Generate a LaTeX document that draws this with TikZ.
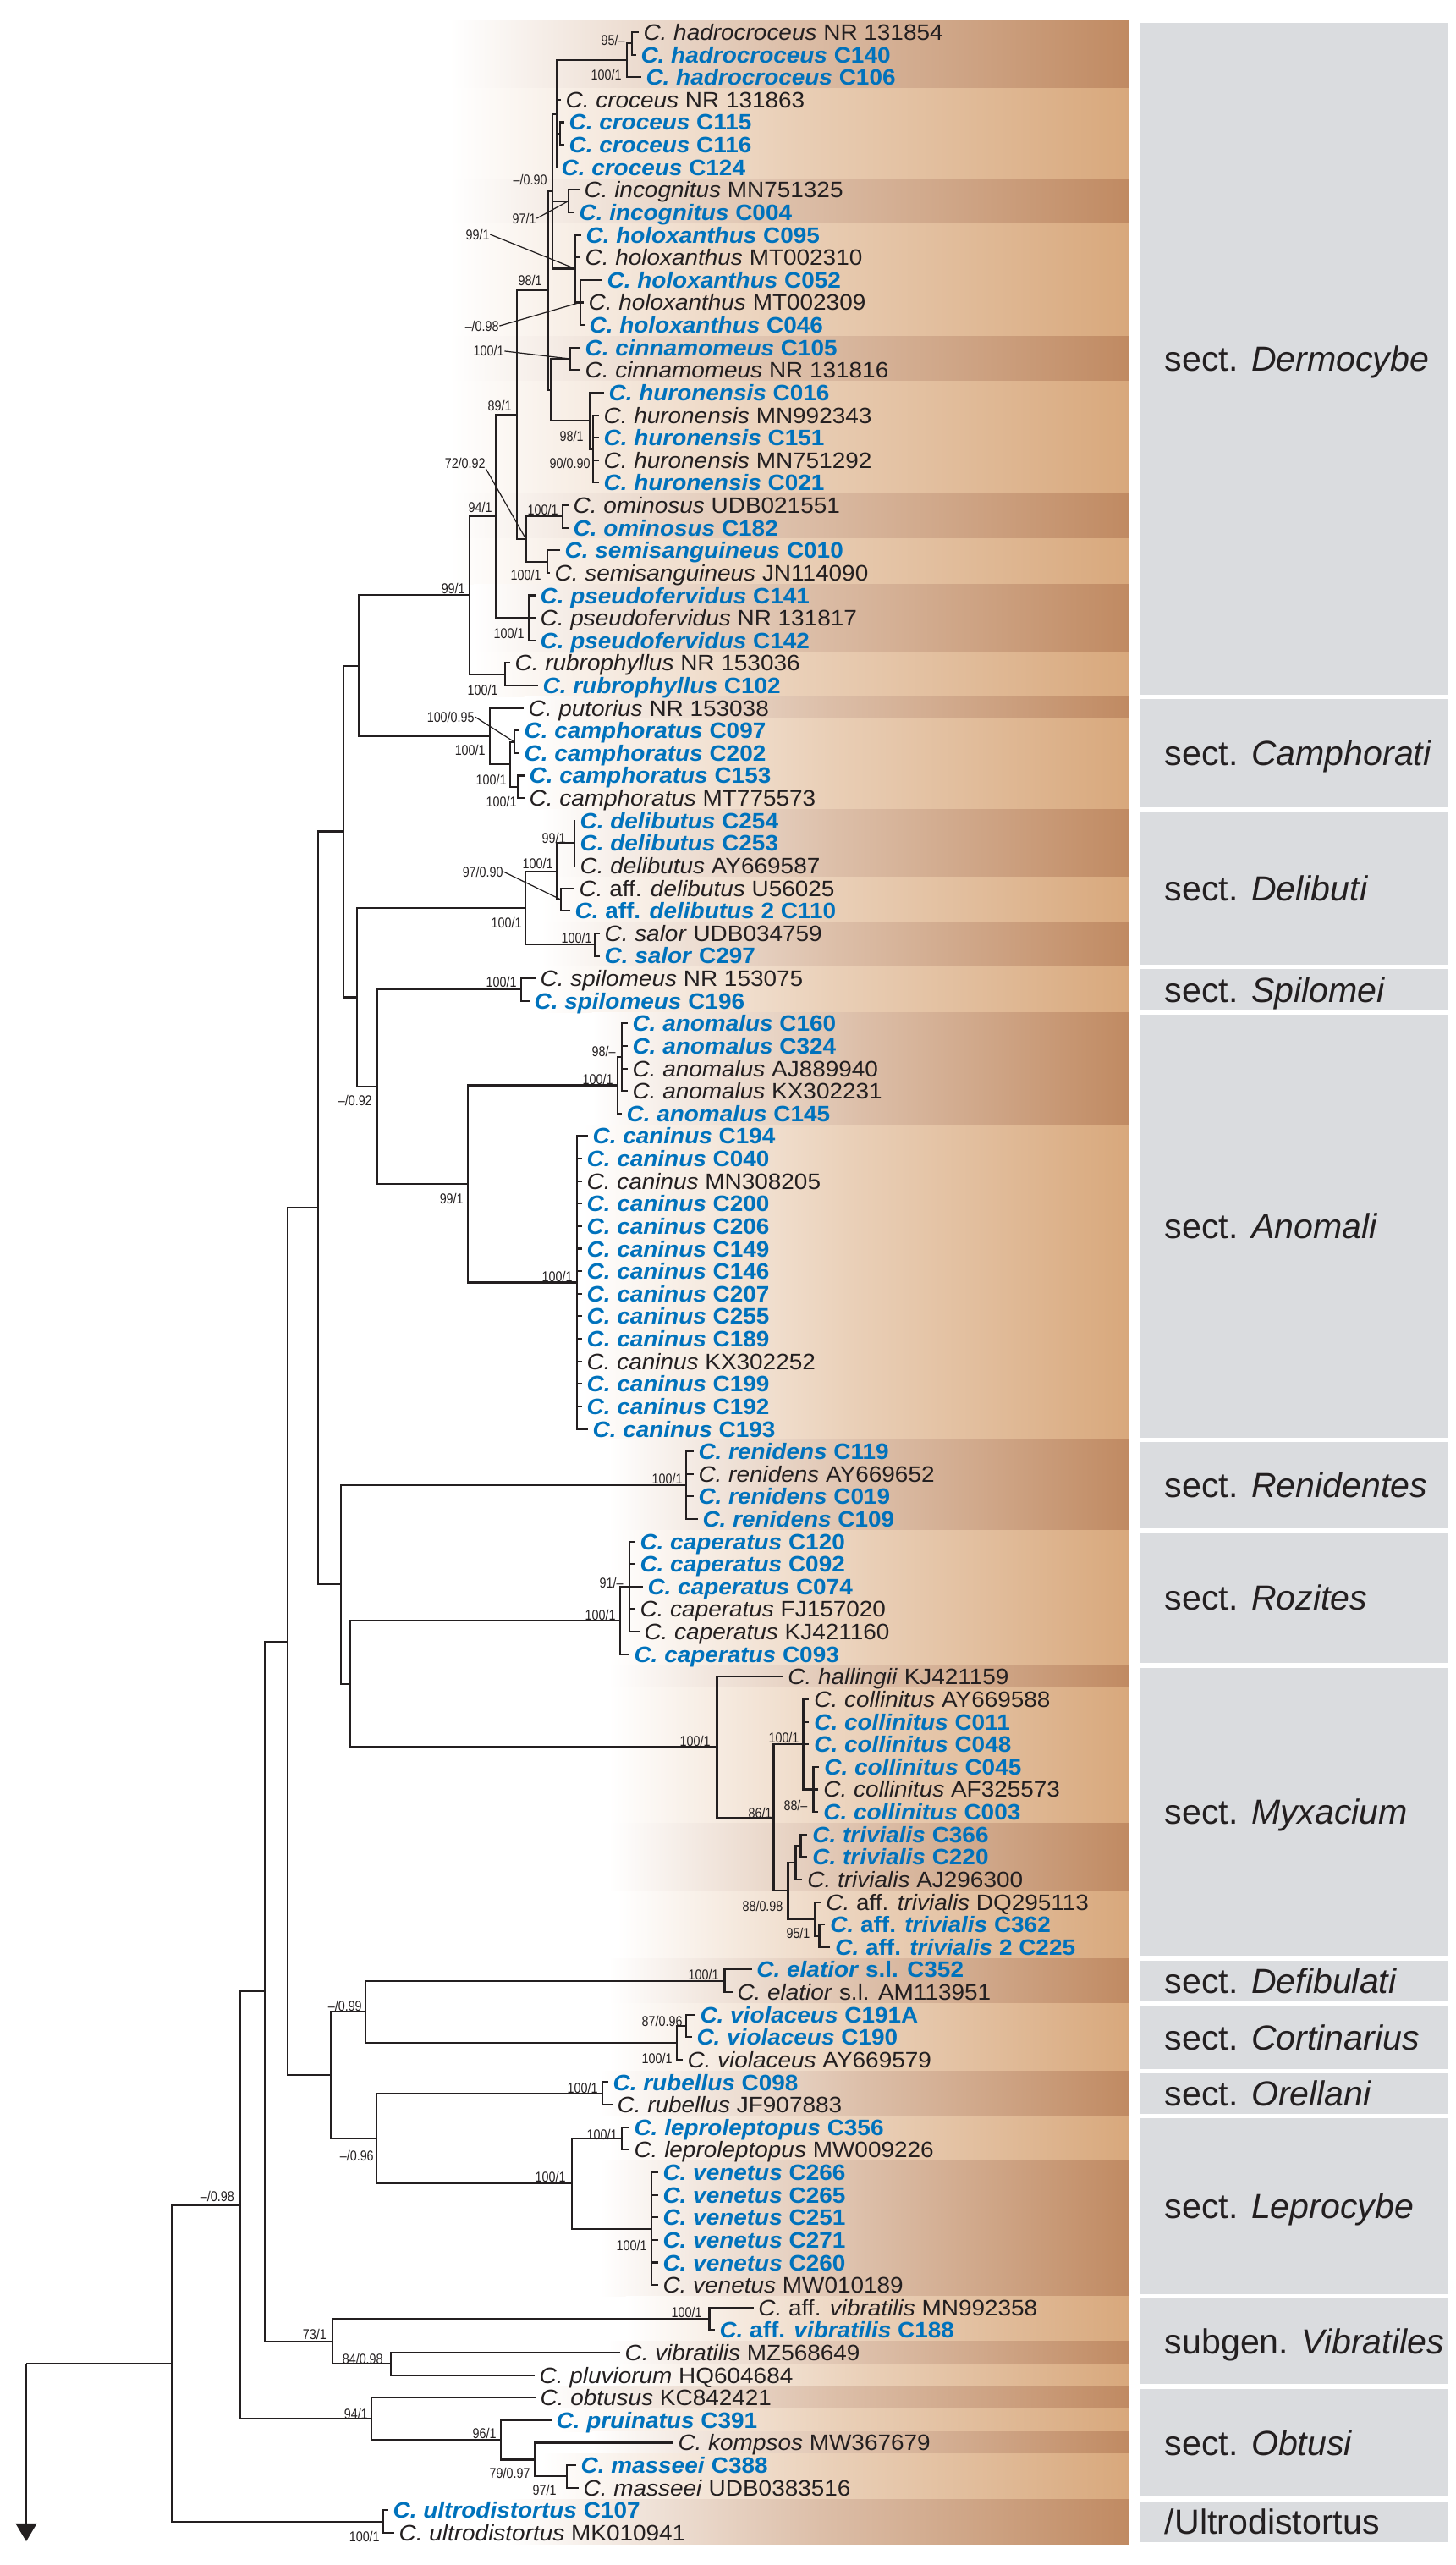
\documentclass[tikz,border=0pt]{standalone}
\usepackage{fontspec}
\setmainfont{Liberation Sans}
\newfontfamily\taxfont{Liberation Sans}[FakeStretch=1.06]
\newfontfamily\bootfont{Liberation Sans}[FakeStretch=0.85]
\usetikzlibrary{arrows.meta}
\definecolor{ink}{HTML}{231F20}
\definecolor{ourblue}{HTML}{0072BC}
\definecolor{dkband}{HTML}{C08A62}
\definecolor{ltband}{HTML}{D8A87C}
\definecolor{secgray}{HTML}{DADCDF}
\newcommand{\Cn}[1]{\textit{C. #1}}
\tikzstyle{branch} = [line width = 0.6pt, draw = ink]
\tikzstyle{pointer} = [line width = 0.35pt, draw = ink]
\tikzstyle{taxon} = [anchor = west, inner xsep = 1.5pt, inner ysep = 0pt,
	text height = 5.4pt, text depth = 0pt, font = \taxfont\fontsize{7.5}{8}\selectfont, text = ink]
\tikzstyle{ours} = [taxon, font = \taxfont\fontsize{7.5}{8}\selectfont\bfseries, text = ourblue]
\tikzstyle{support} = [inner sep = 0pt, font = \bootfont\fontsize{4.8}{5}\selectfont, text = ink]
\tikzstyle{darkband} = [left color = white, right color = dkband, middle color = dkband!55!white]
\tikzstyle{lightband} = [left color = white, right color = ltband, middle color = ltband!55!white]
\tikzstyle{section} = [fill = secgray]
\tikzstyle{seclabel} = [anchor = west, inner sep = 0pt, text height = 8.4pt, text depth = 0pt,
	font = \fontsize{11.7}{12}\selectfont, text = ink]

\begin{document}
\begin{tikzpicture}[x = 0.01cm, y = -0.2662cm]
\useasboundingbox (0,-0.4275) rectangle (1721,113.43);

\path [darkband] (532,0.5) rectangle (1335,3.5);
\path [lightband] (532,3.5) rectangle (1335,7.5);
\path [darkband] (532,7.5) rectangle (1335,9.5);
\path [lightband] (532,9.5) rectangle (1335,14.5);
\path [darkband] (532,14.5) rectangle (1335,16.5);
\path [lightband] (532,16.5) rectangle (1335,21.5);
\path [darkband] (532,21.5) rectangle (1335,23.5);
\path [lightband] (532,23.5) rectangle (1335,25.5);
\path [darkband] (560,25.5) rectangle (1335,28.5);
\path [lightband] (560,28.5) rectangle (1335,30.5);
\path [darkband] (620,30.5) rectangle (1335,31.5);
\path [lightband] (620,31.5) rectangle (1335,35.5);
\path [darkband] (640,35.5) rectangle (1335,38.5);
\path [lightband] (640,38.5) rectangle (1335,40.5);
\path [darkband] (640,40.5) rectangle (1335,42.5);
\path [lightband] (640,42.5) rectangle (1335,44.5);
\path [darkband] (700,44.5) rectangle (1335,49.5);
\path [lightband] (690,49.5) rectangle (1335,63.5);
\path [darkband] (720,63.5) rectangle (1335,67.5);
\path [lightband] (720,67.5) rectangle (1335,73.5);
\path [darkband] (720,73.5) rectangle (1335,74.5);
\path [lightband] (720,74.5) rectangle (1335,80.5);
\path [darkband] (720,80.5) rectangle (1335,83.5);
\path [lightband] (730,83.5) rectangle (1335,86.5);
\path [darkband] (720,86.5) rectangle (1335,88.5);
\path [lightband] (720,88.5) rectangle (1335,91.5);
\path [darkband] (710,91.5) rectangle (1335,93.5);
\path [lightband] (720,93.5) rectangle (1335,95.5);
\path [darkband] (710,95.5) rectangle (1335,101.5);
\path [lightband] (740,101.5) rectangle (1335,103.5);
\path [darkband] (720,103.5) rectangle (1335,104.5);
\path [lightband] (720,104.5) rectangle (1335,105.5);
\path [darkband] (640,105.5) rectangle (1335,106.5);
\path [lightband] (660,106.5) rectangle (1335,107.5);
\path [darkband] (700,107.5) rectangle (1335,108.5);
\path [lightband] (640,108.5) rectangle (1335,110.5);
\path [darkband] (600,110.5) rectangle (1335,112.5);

\fill [section] (1348,0.6) rectangle (1712,30.4);
\node (derm) [seclabel] at (1377,15.5) {sect. \textit{Dermocybe}};
\fill [section] (1348,30.6) rectangle (1712,35.4);
\node (camp) [seclabel] at (1377,33) {sect. \textit{Camphorati}};
\fill [section] (1348,35.6) rectangle (1712,42.4);
\node (deli) [seclabel] at (1377,39) {sect. \textit{Delibuti}};
\fill [section] (1348,42.6) rectangle (1712,44.4);
\node (spil) [seclabel] at (1377,43.5) {sect. \textit{Spilomei}};
\fill [section] (1348,44.6) rectangle (1712,63.4);
\node (anom) [seclabel] at (1377,54) {sect. \textit{Anomali}};
\fill [section] (1348,63.6) rectangle (1712,67.4);
\node (reni) [seclabel] at (1377,65.5) {sect. \textit{Renidentes}};
\fill [section] (1348,67.6) rectangle (1712,73.4);
\node (rozi) [seclabel] at (1377,70.5) {sect. \textit{Rozites}};
\fill [section] (1348,73.6) rectangle (1712,86.4);
\node (myxa) [seclabel] at (1377,80) {sect. \textit{Myxacium}};
\fill [section] (1348,86.6) rectangle (1712,88.4);
\node (defi) [seclabel] at (1377,87.5) {sect. \textit{Defibulati}};
\fill [section] (1348,88.6) rectangle (1712,91.4);
\node (cort) [seclabel] at (1377,90) {sect. \textit{Cortinarius}};
\fill [section] (1348,91.6) rectangle (1712,93.4);
\node (orel) [seclabel] at (1377,92.5) {sect. \textit{Orellani}};
\fill [section] (1348,93.6) rectangle (1712,101.4);
\node (lepr) [seclabel] at (1377,97.5) {sect. \textit{Leprocybe}};
\fill [section] (1348,101.6) rectangle (1712,105.4);
\node (vibr) [seclabel] at (1377,103.5) {subgen. \textit{Vibratiles}};
\fill [section] (1348,105.6) rectangle (1712,110.4);
\node (obtu) [seclabel] at (1377,108) {sect. \textit{Obtusi}};
\fill [section] (1348,110.6) rectangle (1712,112.4);
\node (ultr) [seclabel] at (1377,111.5) {/Ultrodistortus};

\node (t1) [taxon] at (755,1) {\Cn{hadrocroceus} NR 131854};
\node (t2) [ours] at (752,2) {\Cn{hadrocroceus} C140};
\node (t3) [ours] at (758,3) {\Cn{hadrocroceus} C106};
\node (t4) [taxon] at (663,4) {\Cn{croceus} NR 131863};
\node (t5) [ours] at (667,5) {\Cn{croceus} C115};
\node (t6) [ours] at (667,6) {\Cn{croceus} C116};
\node (t7) [ours] at (658,7) {\Cn{croceus} C124};
\node (t8) [taxon] at (685,8) {\Cn{incognitus} MN751325};
\node (t9) [ours] at (679,9) {\Cn{incognitus} C004};
\node (t10) [ours] at (687,10) {\Cn{holoxanthus} C095};
\node (t11) [taxon] at (686,11) {\Cn{holoxanthus} MT002310};
\node (t12) [ours] at (712,12) {\Cn{holoxanthus} C052};
\node (t13) [taxon] at (690,13) {\Cn{holoxanthus} MT002309};
\node (t14) [ours] at (691,14) {\Cn{holoxanthus} C046};
\node (t15) [ours] at (686,15) {\Cn{cinnamomeus} C105};
\node (t16) [taxon] at (686,16) {\Cn{cinnamomeus} NR 131816};
\node (t17) [ours] at (714,17) {\Cn{huronensis} C016};
\node (t18) [taxon] at (708,18) {\Cn{huronensis} MN992343};
\node (t19) [ours] at (708,19) {\Cn{huronensis} C151};
\node (t20) [taxon] at (708,20) {\Cn{huronensis} MN751292};
\node (t21) [ours] at (708,21) {\Cn{huronensis} C021};
\node (t22) [taxon] at (672,22) {\Cn{ominosus} UDB021551};
\node (t23) [ours] at (672,23) {\Cn{ominosus} C182};
\node (t24) [ours] at (662,24) {\Cn{semisanguineus} C010};
\node (t25) [taxon] at (650,25) {\Cn{semisanguineus} JN114090};
\node (t26) [ours] at (633,26) {\Cn{pseudofervidus} C141};
\node (t27) [taxon] at (633,27) {\Cn{pseudofervidus} NR 131817};
\node (t28) [ours] at (633,28) {\Cn{pseudofervidus} C142};
\node (t29) [taxon] at (603,29) {\Cn{rubrophyllus} NR 153036};
\node (t30) [ours] at (636,30) {\Cn{rubrophyllus} C102};
\node (t31) [taxon] at (619,31) {\Cn{putorius} NR 153038};
\node (t32) [ours] at (614,32) {\Cn{camphoratus} C097};
\node (t33) [ours] at (614,33) {\Cn{camphoratus} C202};
\node (t34) [ours] at (620,34) {\Cn{camphoratus} C153};
\node (t35) [taxon] at (620,35) {\Cn{camphoratus} MT775573};
\node (t36) [ours] at (680,36) {\Cn{delibutus} C254};
\node (t37) [ours] at (680,37) {\Cn{delibutus} C253};
\node (t38) [taxon] at (680,38) {\Cn{delibutus} AY669587};
\node (t39) [taxon] at (679,39) {\textit{C.} aff. \textit{delibutus} U56025};
\node (t40) [ours] at (674,40) {\textit{C.} aff. \textit{delibutus} 2 C110};
\node (t41) [taxon] at (709,41) {\Cn{salor} UDB034759};
\node (t42) [ours] at (709,42) {\Cn{salor} C297};
\node (t43) [taxon] at (633,43) {\Cn{spilomeus} NR 153075};
\node (t44) [ours] at (626,44) {\Cn{spilomeus} C196};
\node (t45) [ours] at (742,45) {\Cn{anomalus} C160};
\node (t46) [ours] at (742,46) {\Cn{anomalus} C324};
\node (t47) [taxon] at (742,47) {\Cn{anomalus} AJ889940};
\node (t48) [taxon] at (742,48) {\Cn{anomalus} KX302231};
\node (t49) [ours] at (735,49) {\Cn{anomalus} C145};
\node (t50) [ours] at (695,50) {\Cn{caninus} C194};
\node (t51) [ours] at (688,51) {\Cn{caninus} C040};
\node (t52) [taxon] at (688,52) {\Cn{caninus} MN308205};
\node (t53) [ours] at (688,53) {\Cn{caninus} C200};
\node (t54) [ours] at (688,54) {\Cn{caninus} C206};
\node (t55) [ours] at (688,55) {\Cn{caninus} C149};
\node (t56) [ours] at (688,56) {\Cn{caninus} C146};
\node (t57) [ours] at (688,57) {\Cn{caninus} C207};
\node (t58) [ours] at (688,58) {\Cn{caninus} C255};
\node (t59) [ours] at (688,59) {\Cn{caninus} C189};
\node (t60) [taxon] at (688,60) {\Cn{caninus} KX302252};
\node (t61) [ours] at (688,61) {\Cn{caninus} C199};
\node (t62) [ours] at (688,62) {\Cn{caninus} C192};
\node (t63) [ours] at (695,63) {\Cn{caninus} C193};
\node (t64) [ours] at (820,64) {\Cn{renidens} C119};
\node (t65) [taxon] at (820,65) {\Cn{renidens} AY669652};
\node (t66) [ours] at (820,66) {\Cn{renidens} C019};
\node (t67) [ours] at (825,67) {\Cn{renidens} C109};
\node (t68) [ours] at (751,68) {\Cn{caperatus} C120};
\node (t69) [ours] at (751,69) {\Cn{caperatus} C092};
\node (t70) [ours] at (760,70) {\Cn{caperatus} C074};
\node (t71) [taxon] at (751,71) {\Cn{caperatus} FJ157020};
\node (t72) [taxon] at (756,72) {\Cn{caperatus} KJ421160};
\node (t73) [ours] at (744,73) {\Cn{caperatus} C093};
\node (t74) [taxon] at (926,74) {\Cn{hallingii} KJ421159};
\node (t75) [taxon] at (957,75) {\Cn{collinitus} AY669588};
\node (t76) [ours] at (957,76) {\Cn{collinitus} C011};
\node (t77) [ours] at (957,77) {\Cn{collinitus} C048};
\node (t78) [ours] at (969,78) {\Cn{collinitus} C045};
\node (t79) [taxon] at (968,79) {\Cn{collinitus} AF325573};
\node (t80) [ours] at (968,80) {\Cn{collinitus} C003};
\node (t81) [ours] at (955,81) {\Cn{trivialis} C366};
\node (t82) [ours] at (955,82) {\Cn{trivialis} C220};
\node (t83) [taxon] at (949,83) {\Cn{trivialis} AJ296300};
\node (t84) [taxon] at (971,84) {\textit{C.} aff. \textit{trivialis} DQ295113};
\node (t85) [ours] at (976,85) {\textit{C.} aff. \textit{trivialis} C362};
\node (t86) [ours] at (982,86) {\textit{C.} aff. \textit{trivialis} 2 C225};
\node (t87) [ours] at (889,87) {\Cn{elatior} s.l. C352};
\node (t88) [taxon] at (866,88) {\Cn{elatior} s.l. AM113951};
\node (t89) [ours] at (822,89) {\Cn{violaceus} C191A};
\node (t90) [ours] at (818,90) {\Cn{violaceus} C190};
\node (t91) [taxon] at (807,91) {\Cn{violaceus} AY669579};
\node (t92) [ours] at (719,92) {\Cn{rubellus} C098};
\node (t93) [taxon] at (724,93) {\Cn{rubellus} JF907883};
\node (t94) [ours] at (744,94) {\Cn{leproleptopus} C356};
\node (t95) [taxon] at (744,95) {\Cn{leproleptopus} MW009226};
\node (t96) [ours] at (778,96) {\Cn{venetus} C266};
\node (t97) [ours] at (778,97) {\Cn{venetus} C265};
\node (t98) [ours] at (778,98) {\Cn{venetus} C251};
\node (t99) [ours] at (778,99) {\Cn{venetus} C271};
\node (t100) [ours] at (778,100) {\Cn{venetus} C260};
\node (t101) [taxon] at (778,101) {\Cn{venetus} MW010189};
\node (t102) [taxon] at (891,102) {\textit{C.} aff. \textit{vibratilis} MN992358};
\node (t103) [ours] at (845,103) {\textit{C.} aff. \textit{vibratilis} C188};
\node (t104) [taxon] at (733,104) {\Cn{vibratilis} MZ568649};
\node (t105) [taxon] at (632,105) {\Cn{pluviorum} HQ604684};
\node (t106) [taxon] at (633,106) {\Cn{obtusus} KC842421};
\node (t107) [ours] at (652,107) {\Cn{pruinatus} C391};
\node (t108) [taxon] at (796,108) {\Cn{kompsos} MW367679};
\node (t109) [ours] at (681,109) {\Cn{masseei} C388};
\node (t110) [taxon] at (684,110) {\Cn{masseei} UDB0383516};
\node (t111) [ours] at (459,111) {\Cn{ultrodistortus} C107};
\node (t112) [taxon] at (466,112) {\Cn{ultrodistortus} MK010941};

\coordinate (H1) at (747,1.5);
\coordinate (H2) at (741,2.25);
\coordinate (S1) at (662,5.5);
\coordinate (CR) at (658,4.625);
\coordinate (INC) at (672,8.5);
\coordinate (S2) at (686,13);
\coordinate (HOL) at (680,11.5);
\coordinate (Q) at (653,8.0625);
\coordinate (CIN) at (674,15.5);
\coordinate (HUR2) at (701,19.5);
\coordinate (HUR) at (697,18.25);
\coordinate (R) at (651,16.875);
\coordinate (D98) at (648,12.469);
\coordinate (OMI) at (665,22.5);
\coordinate (SEM) at (647,24.5);
\coordinate (N72) at (622,23.5);
\coordinate (N89) at (611,17.984);
\coordinate (PSE) at (625,27);
\coordinate (N94) at (586,22.492);
\coordinate (RUB) at (597,29.5);
\coordinate (N99D) at (555,25.996);
\coordinate (CAM1) at (608,32.5);
\coordinate (CAM2) at (612,34.5);
\coordinate (CAM) at (603,33.5);
\coordinate (CAMPH) at (579,32.25);
\coordinate (N424) at (424,29.123);
\coordinate (DEL) at (679,37);
\coordinate (ADEL) at (663,39.5);
\coordinate (N100a) at (658,38.25);
\coordinate (SAL) at (703,41.5);
\coordinate (DELIB) at (621,39.875);
\coordinate (SPI) at (616,43.5);
\coordinate (ANO1) at (735,46.5);
\coordinate (ANO) at (730,47.75);
\coordinate (CAN) at (682,56.5);
\coordinate (N99A) at (553,52.125);
\coordinate (N092) at (446,47.8125);
\coordinate (N422) at (422,43.84);
\coordinate (N406) at (406,36.48);
\coordinate (REN) at (811,65.5);
\coordinate (CAP1) at (744,70);
\coordinate (CAP) at (733,71.5);
\coordinate (COLL2) at (962,79);
\coordinate (COLL) at (950,77);
\coordinate (TRI1) at (947,81.5);
\coordinate (TRI2) at (941,82.25);
\coordinate (ATRI2) at (969,85.5);
\coordinate (ATRI) at (964,84.75);
\coordinate (TRI3) at (932,83.5);
\coordinate (N86) at (915,80.25);
\coordinate (MYX) at (848,77.125);
\coordinate (N414) at (414,74.31);
\coordinate (N403) at (403,69.9);
\coordinate (N376) at (376,53.19);
\coordinate (ELA) at (857,87.5);
\coordinate (VIO1) at (811,89.5);
\coordinate (VIO) at (800,90.25);
\coordinate (N099) at (432,88.875);
\coordinate (RUBE) at (712,92.5);
\coordinate (LEPL) at (735,94.5);
\coordinate (VEN) at (770,98.5);
\coordinate (LEP) at (676,96.5);
\coordinate (N096) at (445,94.5);
\coordinate (N391) at (391,91.69);
\coordinate (N340) at (340,72.44);
\coordinate (AVIB) at (839,102.5);
\coordinate (N84) at (462,104.5);
\coordinate (N73) at (393,103.5);
\coordinate (N313) at (313,87.97);
\coordinate (MAS) at (670,109.5);
\coordinate (N79) at (632,108.75);
\coordinate (N96) at (592,107.875);
\coordinate (OBT) at (439,106.94);
\coordinate (N098) at (284,97.45);
\coordinate (ULT) at (453,111.5);
\coordinate (ROOT) at (203,104.48);
\coordinate (stem) at (31,104.48);
\coordinate (down) at (31,112.38);

\draw [branch] (H1) |- (t1.west) (H1) |- (t2.west);
\draw [branch] (H2) |- (H1) (H2) |- (t3.west);
\draw [branch] (S1) |- (t5.west) (S1) |- (t6.west);
\draw [branch] (CR) |- (H2) (CR) |- (t4.west) (CR) |- (S1) (CR) |- (t7.west);
\draw [branch] (INC) |- (t8.west) (INC) |- (t9.west);
\draw [branch] (S2) |- (t12.west) (S2) |- (t13.west) (S2) |- (t14.west);
\draw [branch] (HOL) |- (t10.west) (HOL) |- (t11.west) (HOL) |- (S2);
\draw [branch] (Q) |- (CR) (Q) |- (INC) (Q) |- (HOL);
\draw [branch] (CIN) |- (t15.west) (CIN) |- (t16.west);
\draw [branch] (HUR2) |- (t18.west) (HUR2) |- (t19.west) (HUR2) |- (t20.west) (HUR2) |- (t21.west);
\draw [branch] (HUR) |- (t17.west) (HUR) |- (HUR2);
\draw [branch] (R) |- (CIN) (R) |- (HUR);
\draw [branch] (D98) |- (Q) (D98) |- (R);
\draw [branch] (OMI) |- (t22.west) (OMI) |- (t23.west);
\draw [branch] (SEM) |- (t24.west) (SEM) |- (t25.west);
\draw [branch] (N72) |- (OMI) (N72) |- (SEM);
\draw [branch] (N89) |- (D98) (N89) |- (N72);
\draw [branch] (PSE) |- (t26.west) (PSE) |- (t27.west) (PSE) |- (t28.west);
\draw [branch] (N94) |- (N89) (N94) |- (PSE);
\draw [branch] (RUB) |- (t29.west) (RUB) |- (t30.west);
\draw [branch] (N99D) |- (N94) (N99D) |- (RUB);
\draw [branch] (CAM1) |- (t32.west) (CAM1) |- (t33.west);
\draw [branch] (CAM2) |- (t34.west) (CAM2) |- (t35.west);
\draw [branch] (CAM) |- (CAM1) (CAM) |- (CAM2);
\draw [branch] (CAMPH) |- (t31.west) (CAMPH) |- (CAM);
\draw [branch] (N424) |- (N99D) (N424) |- (CAMPH);
\draw [branch] (DEL) |- (t36.west) (DEL) |- (t37.west) (DEL) |- (t38.west);
\draw [branch] (ADEL) |- (t39.west) (ADEL) |- (t40.west);
\draw [branch] (N100a) |- (DEL) (N100a) |- (ADEL);
\draw [branch] (SAL) |- (t41.west) (SAL) |- (t42.west);
\draw [branch] (DELIB) |- (N100a) (DELIB) |- (SAL);
\draw [branch] (SPI) |- (t43.west) (SPI) |- (t44.west);
\draw [branch] (ANO1) |- (t45.west) (ANO1) |- (t46.west) (ANO1) |- (t47.west) (ANO1) |- (t48.west);
\draw [branch] (ANO) |- (ANO1) (ANO) |- (t49.west);
\draw [branch] (CAN) |- (t50.west) (CAN) |- (t51.west) (CAN) |- (t52.west) (CAN) |- (t53.west)
	(CAN) |- (t54.west) (CAN) |- (t55.west) (CAN) |- (t56.west) (CAN) |- (t57.west)
	(CAN) |- (t58.west) (CAN) |- (t59.west) (CAN) |- (t60.west) (CAN) |- (t61.west)
	(CAN) |- (t62.west) (CAN) |- (t63.west);
\draw [branch] (N99A) |- (ANO) (N99A) |- (CAN);
\draw [branch] (N092) |- (SPI) (N092) |- (N99A);
\draw [branch] (N422) |- (DELIB) (N422) |- (N092);
\draw [branch] (N406) |- (N424) (N406) |- (N422);
\draw [branch] (REN) |- (t64.west) (REN) |- (t65.west) (REN) |- (t66.west) (REN) |- (t67.west);
\draw [branch] (CAP1) |- (t68.west) (CAP1) |- (t69.west) (CAP1) |- (t70.west) (CAP1) |- (t71.west) (CAP1) |- (t72.west);
\draw [branch] (CAP) |- (CAP1) (CAP) |- (t73.west);
\draw [branch] (COLL2) |- (t78.west) (COLL2) |- (t79.west) (COLL2) |- (t80.west);
\draw [branch] (COLL) |- (t75.west) (COLL) |- (t76.west) (COLL) |- (t77.west) (COLL) |- (COLL2);
\draw [branch] (TRI1) |- (t81.west) (TRI1) |- (t82.west);
\draw [branch] (TRI2) |- (TRI1) (TRI2) |- (t83.west);
\draw [branch] (ATRI2) |- (t85.west) (ATRI2) |- (t86.west);
\draw [branch] (ATRI) |- (t84.west) (ATRI) |- (ATRI2);
\draw [branch] (TRI3) |- (TRI2) (TRI3) |- (ATRI);
\draw [branch] (N86) |- (COLL) (N86) |- (TRI3);
\draw [branch] (MYX) |- (t74.west) (MYX) |- (N86);
\draw [branch] (N414) |- (CAP) (N414) |- (MYX);
\draw [branch] (N403) |- (REN) (N403) |- (N414);
\draw [branch] (N376) |- (N406) (N376) |- (N403);
\draw [branch] (ELA) |- (t87.west) (ELA) |- (t88.west);
\draw [branch] (VIO1) |- (t89.west) (VIO1) |- (t90.west);
\draw [branch] (VIO) |- (VIO1) (VIO) |- (t91.west);
\draw [branch] (N099) |- (ELA) (N099) |- (VIO);
\draw [branch] (RUBE) |- (t92.west) (RUBE) |- (t93.west);
\draw [branch] (LEPL) |- (t94.west) (LEPL) |- (t95.west);
\draw [branch] (VEN) |- (t96.west) (VEN) |- (t97.west) (VEN) |- (t98.west)
	(VEN) |- (t99.west) (VEN) |- (t100.west) (VEN) |- (t101.west);
\draw [branch] (LEP) |- (LEPL) (LEP) |- (VEN);
\draw [branch] (N096) |- (RUBE) (N096) |- (LEP);
\draw [branch] (N391) |- (N099) (N391) |- (N096);
\draw [branch] (N340) |- (N376) (N340) |- (N391);
\draw [branch] (AVIB) |- (t102.west) (AVIB) |- (t103.west);
\draw [branch] (N84) |- (t104.west) (N84) |- (t105.west);
\draw [branch] (N73) |- (AVIB) (N73) |- (N84);
\draw [branch] (N313) |- (N340) (N313) |- (N73);
\draw [branch] (MAS) |- (t109.west) (MAS) |- (t110.west);
\draw [branch] (N79) |- (t108.west) (N79) |- (MAS);
\draw [branch] (N96) |- (t107.west) (N96) |- (N79);
\draw [branch] (OBT) |- (t106.west) (OBT) |- (N96);
\draw [branch] (N098) |- (N313) (N098) |- (OBT);
\draw [branch] (ULT) |- (t111.west) (ULT) |- (t112.west);
\draw [branch] (ROOT) |- (N098) (ROOT) |- (ULT);
\draw [branch] (ROOT) -- (stem);
\draw [branch, -{Triangle[width = 7pt, length = 6pt]}] (stem) -- (down);

\node (s1) [support] at (725,1.34) {95/–};
\node (s2) [support] at (717,2.88) {100/1};
\node (s3) [support] at (627,7.57) {–/0.90};
\node (s4) [support] at (620,9.27) {97/1};
\node (s5) [support] at (565,9.98) {99/1};
\node (s6) [support] at (627,12.04) {98/1};
\node (s7) [support] at (570,14.04) {–/0.98};
\node (s8) [support] at (578,15.16) {100/1};
\node (s9) [support] at (591,17.6) {89/1};
\node (s10) [support] at (676,18.92) {98/1};
\node (s11) [support] at (674,20.12) {90/0.90};
\node (s12) [support] at (550,20.12) {72/0.92};
\node (s13) [support] at (568,22.11) {94/1};
\node (s14) [support] at (642,22.19) {100/1};
\node (s15) [support] at (622,25.11) {100/1};
\node (s16) [support] at (536,25.68) {99/1};
\node (s17) [support] at (602,27.67) {100/1};
\node (s18) [support] at (571,30.19) {100/1};
\node (s19) [support] at (533,31.39) {100/0.95};
\node (s20) [support] at (556,32.86) {100/1};
\node (s21) [support] at (581,34.17) {100/1};
\node (s22) [support] at (593,35.15) {100/1};
\node (s23) [support] at (655,36.76) {99/1};
\node (s24) [support] at (636,37.89) {100/1};
\node (s25) [support] at (571,38.27) {97/0.90};
\node (s26) [support] at (599,40.52) {100/1};
\node (s27) [support] at (682,41.2) {100/1};
\node (s28) [support] at (593,43.15) {100/1};
\node (s29) [support] at (714,46.23) {98/–};
\node (s30) [support] at (707,47.47) {100/1};
\node (s31) [support] at (420,48.41) {–/0.92};
\node (s32) [support] at (534,52.77) {99/1};
\node (s33) [support] at (659,56.22) {100/1};
\node (s34) [support] at (789,65.2) {100/1};
\node (s35) [support] at (723,69.82) {91/–};
\node (s36) [support] at (710,71.25) {100/1};
\node (s37) [support] at (822,76.85) {100/1};
\node (s38) [support] at (927,76.7) {100/1};
\node (s39) [support] at (941,79.7) {88/–};
\node (s40) [support] at (899,80.04) {86/1};
\node (s41) [support] at (902,84.2) {88/0.98};
\node (s42) [support] at (944,85.4) {95/1};
\node (s43) [support] at (832,87.21) {100/1};
\node (s44) [support] at (408,88.6) {–/0.99};
\node (s45) [support] at (783,89.28) {87/0.96};
\node (s46) [support] at (777,90.94) {100/1};
\node (s47) [support] at (689,92.25) {100/1};
\node (s48) [support] at (712,94.31) {100/1};
\node (s49) [support] at (422,95.25) {–/0.96};
\node (s50) [support] at (651,96.2) {100/1};
\node (s51) [support] at (747,99.24) {100/1};
\node (s52) [support] at (257,97.06) {–/0.98};
\node (s53) [support] at (812,102.2) {100/1};
\node (s54) [support] at (372,103.18) {73/1};
\node (s55) [support] at (429,104.27) {84/0.98};
\node (s56) [support] at (421,106.71) {94/1};
\node (s57) [support] at (573,107.57) {96/1};
\node (s58) [support] at (603,109.34) {79/0.97};
\node (s59) [support] at (644,110.09) {97/1};
\node (s60) [support] at (431,112.16) {100/1};

\draw [pointer] (s4.east) -- (INC);
\draw [pointer] (s5.east) -- (HOL);
\draw [pointer] (s7.east) -- (S2);
\draw [pointer] (s8.east) -- (CIN);
\draw [pointer] (s12.south east) -- (N72);
\draw [pointer] (s19.east) -- (CAM1);
\draw [pointer] (s25.east) -- (ADEL);
\end{tikzpicture}
\end{document}
